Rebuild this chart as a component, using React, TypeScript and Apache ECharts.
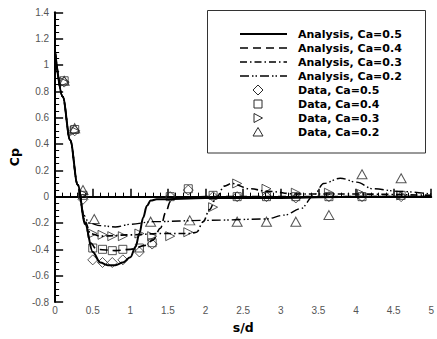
import React, { useEffect, useRef } from "react";
import * as echarts from "echarts";

// Analysis curves (s/d, Cp)
const sdA05 = [0, 0.1, 0.2, 0.3, 0.4, 0.5, 0.6, 0.7, 0.8, 0.9, 1.0, 1.07, 1.12, 1.17, 1.22, 1.27, 1.35, 2.0, 3.0, 4.0, 5.0];
const cpA05 = [1.1, 0.76, 0.43, 0.09, -0.21, -0.42, -0.5, -0.52, -0.52, -0.5, -0.46, -0.38, -0.28, -0.16, -0.07, -0.03, -0.02, -0.01, -0.01, 0, 0];

const sdA04 = [0, 0.1, 0.2, 0.3, 0.4, 0.47, 0.55, 0.8, 1.0, 1.2, 1.3, 1.4, 1.47, 1.53, 1.6, 2.0, 3.0, 4.0, 5.0];
const cpA04 = [1.1, 0.76, 0.43, 0.09, -0.2, -0.35, -0.4, -0.41, -0.4, -0.37, -0.33, -0.24, -0.12, -0.04, -0.01, 0, 0, 0, 0];

const sdA03 = [0, 0.1, 0.2, 0.3, 0.4, 0.47, 0.6, 1.0, 1.4, 1.8, 1.88, 1.97, 2.05, 2.14, 2.25, 2.35, 2.58, 2.84, 3.2, 4.0, 5.0];
const cpA03 = [1.1, 0.76, 0.43, 0.09, -0.19, -0.28, -0.3, -0.29, -0.28, -0.28, -0.27, -0.19, -0.1, -0.01, 0.08, 0.1, 0.06, 0.04, 0.02, 0.02, 0.01];

const sdA02 = [0, 0.1, 0.2, 0.3, 0.38, 0.45, 0.6, 0.8, 1.0, 1.3, 2.0, 2.8, 3.05, 3.27, 3.44, 3.57, 3.79, 4.01, 4.22, 4.58, 5.0];
const cpA02 = [1.1, 0.76, 0.43, 0.09, -0.14, -0.2, -0.22, -0.23, -0.21, -0.19, -0.18, -0.17, -0.14, -0.09, 0.01, 0.1, 0.14, 0.11, 0.06, 0.04, 0.02];

// Measured data
const sdData = [0.12, 0.26, 0.37, 0.5, 0.63, 0.76, 0.9, 1.12, 1.29, 1.53, 1.77, 2.1, 2.42, 2.81, 3.2, 3.64, 4.08, 4.6];
const cpD05 = [0.87, 0.5, -0.02, -0.48, -0.5, -0.5, -0.48, -0.42, -0.36, 0.0, 0.05, 0.0, 0.0, 0.0, -0.01, 0.0, 0.0, 0.0];
const cpD04 = [0.88, 0.51, 0.01, -0.39, -0.4, -0.41, -0.4, -0.39, -0.35, 0.0, 0.06, 0.01, 0.0, 0.0, 0.0, 0.0, 0.0, 0.01];
const cpD03 = [0.87, 0.5, 0.02, -0.28, -0.29, -0.3, -0.3, -0.28, -0.3, -0.3, -0.27, -0.08, 0.1, 0.06, 0.03, 0.03, 0.02, 0.01];
const sdData02 = [0.12, 0.26, 0.37, 0.52, 1.27, 1.79, 2.42, 2.81, 3.2, 3.64, 4.08, 4.6];
const cpD02 = [0.88, 0.52, 0.05, -0.17, -0.19, -0.18, -0.19, -0.19, -0.19, -0.14, 0.17, 0.14];

const lineLabels = ["Analysis, Ca=0.5", "Analysis, Ca=0.4", "Analysis, Ca=0.3", "Analysis, Ca=0.2"];
const dataLabels = ["Data, Ca=0.5", "Data, Ca=0.4", "Data, Ca=0.3", "Data, Ca=0.2"];

const pairs = (xs: number[], ys: number[]) => xs.map((x, i) => [x, ys[i]]);

const dashes: (number[] | null)[] = [null, [8, 5], [7, 3, 1.5, 3], [9, 3, 1.5, 2, 1.5, 3]];
const lineWidths = [2, 1.6, 1.6, 1.4];
const MK = "#2a2a2a";
const FONT = '"Liberation Sans", Arial, sans-serif';
const LFONT = '"DejaVu Sans", sans-serif';

export default function App() {
  const ref = useRef<HTMLDivElement>(null);
  useEffect(() => {
    const chart = echarts.init(ref.current!, null, { renderer: "svg" });
    const lines = [
      pairs(sdA05, cpA05),
      pairs(sdA04, cpA04),
      pairs(sdA03, cpA03),
      pairs(sdA02, cpA02),
    ];
    const lineSeries = lines.map((d, i) => ({
      type: "line",
      name: lineLabels[i],
      data: d,
      symbol: "none",
      smooth: 0.35,
      smoothMonotone: "x",
      lineStyle: { color: "#000", width: lineWidths[i], type: dashes[i] ? dashes[i] : "solid" },
      z: 3,
    }));
    const mkStyle = { color: "rgba(0,0,0,0)", borderColor: MK, borderWidth: 1 };
    const scatterSeries = [
      { type: "scatter", name: dataLabels[0], data: pairs(sdData, cpD05), symbol: "diamond", symbolSize: [10, 10], itemStyle: mkStyle },
      { type: "scatter", name: dataLabels[1], data: pairs(sdData, cpD04), symbol: "rect", symbolSize: 8, itemStyle: mkStyle },
      { type: "scatter", name: dataLabels[2], data: pairs(sdData, cpD03), symbol: "triangle", symbolRotate: -90, symbolSize: [9, 9], itemStyle: mkStyle },
      { type: "scatter", name: dataLabels[3], data: pairs(sdData02, cpD02), symbol: "triangle", symbolSize: [10, 9], itemStyle: mkStyle },
    ];

    // legend drawn with graphics
    const lx1 = 240, lx2 = 287, mx = 258, tx = 298;
    const rowY = [34, 48, 62, 76, 90, 104, 118, 132];
    const g: any[] = [
      {
        type: "rect",
        shape: { x: 207.5, y: 10.5, width: 218, height: 142.5 },
        style: { fill: "#fff", stroke: "#333", lineWidth: 1 },
        z: 10,
      },
    ];
    const tStyle = (text: string) => ({
      text,
      font: `bold 11px ${LFONT}`,
      fill: "#000",
      verticalAlign: "middle",
      textVerticalAlign: "middle",
    });
    lineLabels.forEach((lab, i) => {
      const y = rowY[i];
      g.push({
        type: "line",
        shape: { x1: lx1, y1: y, x2: lx2, y2: y },
        style: { stroke: "#000", lineWidth: lineWidths[i], lineDash: dashes[i] || undefined },
        z: 11,
      });
      g.push({ type: "text", x: tx, y, style: tStyle(lab), z: 11 });
    });
    const mStyle = { fill: "none", stroke: MK, lineWidth: 1 };
    const ys = rowY.slice(4);
    g.push({ type: "polygon", shape: { points: [[mx, ys[0] - 5], [mx + 5, ys[0]], [mx, ys[0] + 5], [mx - 5, ys[0]]] }, style: mStyle, z: 11 });
    g.push({ type: "rect", shape: { x: mx - 4, y: ys[1] - 4, width: 8, height: 8 }, style: mStyle, z: 11 });
    g.push({ type: "polygon", shape: { points: [[mx - 4, ys[2] - 4.5], [mx + 4.5, ys[2]], [mx - 4, ys[2] + 4.5]] }, style: mStyle, z: 11 });
    g.push({ type: "polygon", shape: { points: [[mx, ys[3] - 4.5], [mx + 5, ys[3] + 4], [mx - 5, ys[3] + 4]] }, style: mStyle, z: 11 });
    dataLabels.forEach((lab, i) => {
      g.push({ type: "text", x: tx, y: ys[i], style: tStyle(lab), z: 11 });
    });

    chart.setOption({
      animation: false,
      backgroundColor: "#fff",
      grid: { left: 49.5, right: 4.5, top: 12.3, bottom: 29.5, containLabel: false },
      xAxis: {
        type: "value",
        min: 0,
        max: 5,
        interval: 0.5,
        name: "s/d",
        nameLocation: "middle",
        nameGap: 19,
        nameTextStyle: { fontFamily: LFONT, fontWeight: "bold", fontSize: 12.5, color: "#000" },
        axisLine: { lineStyle: { color: "#000", width: 2 } },
        axisTick: { inside: true, length: 8, lineStyle: { color: "#000", width: 1.5 } },
        minorTick: { show: true, splitNumber: 5, length: 4, lineStyle: { color: "#000", width: 1 } },
        splitLine: { show: false },
        minorSplitLine: { show: false },
        axisLabel: { color: "#555", fontSize: 10, fontFamily: FONT, margin: 3 },
      },
      yAxis: {
        type: "value",
        min: -0.8,
        max: 1.4,
        interval: 0.2,
        name: "Cp",
        nameLocation: "middle",
        nameGap: 26,
        nameTextStyle: { fontFamily: LFONT, fontWeight: "bold", fontSize: 12.5, color: "#000" },
        axisLine: { show: true, lineStyle: { color: "#000", width: 2 } },
        axisTick: { inside: true, length: 8, lineStyle: { color: "#000", width: 1.5 } },
        minorTick: { show: true, splitNumber: 4, length: 4, lineStyle: { color: "#000", width: 1 } },
        splitLine: { show: false },
        minorSplitLine: { show: false },
        axisLabel: { color: "#555", fontSize: 10, fontFamily: FONT, margin: 6 },
      },
      series: [...lineSeries, ...scatterSeries],
      graphic: g,
    });
    return () => chart.dispose();
  }, []);
  return (
    <div
      ref={ref}
      style={{ position: "fixed", left: 0, top: 0, width: 437, height: 339, background: "#fff" }}
    />
  );
}
